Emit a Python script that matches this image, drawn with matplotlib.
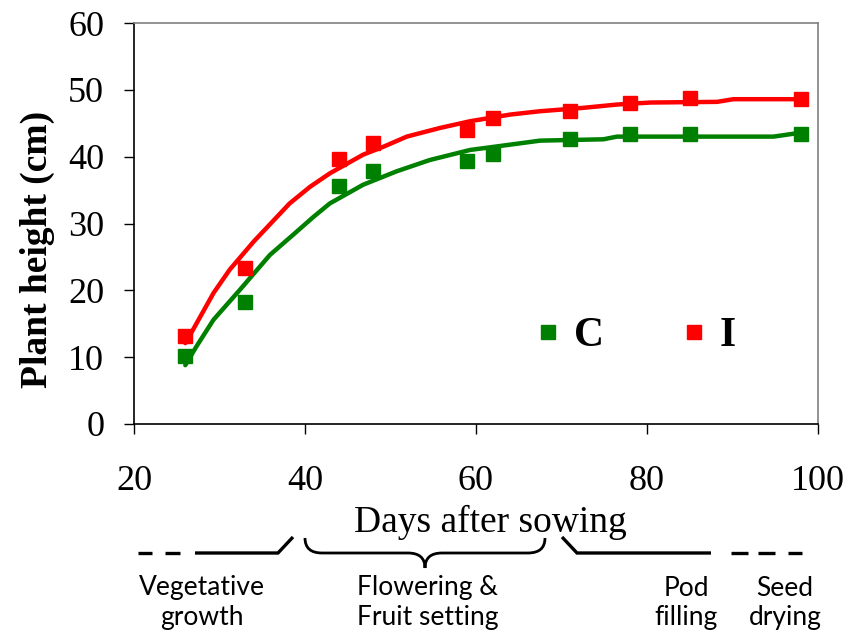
import matplotlib
matplotlib.use("Agg")
import matplotlib.pyplot as plt
from matplotlib.lines import Line2D
from matplotlib.path import Path
from matplotlib.patches import PathPatch

# Measured plant heights (cm) at each sampling date
days = [26, 33, 44, 48, 59, 62, 71, 78, 85, 98]
height_C = [10.2, 18.2, 35.6, 37.9, 39.4, 40.4, 42.7, 43.4, 43.4, 43.4]
height_I = [13.2, 23.3, 39.7, 42.0, 44.0, 45.8, 46.8, 48.1, 48.8, 48.7]

# Trend curves
trend_C_days = [26.0, 27.3, 29.3, 32.4, 35.9, 38.6, 41.0, 42.9, 46.8, 50.7, 54.6,
                59.3, 64.0, 67.5, 74.9, 76.5, 84.3, 94.8, 97.5]
trend_C = [8.8, 11.6, 15.6, 20.1, 25.3, 28.3, 31.0, 33.0, 35.8, 37.8, 39.5,
           41.0, 41.8, 42.4, 42.6, 43.0, 43.0, 43.0, 43.5]
trend_I_days = [26.0, 26.9, 29.3, 31.2, 34.0, 38.2, 40.6, 42.9, 46.8, 49.2, 51.9,
                55.8, 59.3, 64.0, 67.5, 72.5, 76.5, 80.4, 88.2, 90.1, 97.5]
trend_I = [12.1, 14.1, 19.6, 23.1, 27.3, 33.0, 35.5, 37.5, 40.3, 41.5, 43.0,
           44.3, 45.3, 46.3, 46.8, 47.3, 47.8, 48.1, 48.2, 48.6, 48.6]

series_names = ["C", "I"]
series_colors = ["#008000", "#FF0000"]

x_ticks = [20, 40, 60, 80, 100]
y_ticks = [0, 10, 20, 30, 40, 50, 60]

phase_labels = ["Vegetative\ngrowth", "Flowering &\nFruit setting", "Pod\nfilling", "Seed\ndrying"]

W, H = 854, 638
fig = plt.figure(figsize=(W / 100, H / 100), dpi=100)
ax = fig.add_axes([134 / W, 1 - 424 / H, (818 - 134) / W, (424 - 23) / H])

serif = "Liberation Serif"

ax.plot(trend_C_days, trend_C, color=series_colors[0], lw=3.2, solid_capstyle="round", zorder=2)
ax.plot(trend_I_days, trend_I, color=series_colors[1], lw=3.2, solid_capstyle="round", zorder=2)
hC, = ax.plot(days, height_C, ls="none", marker="s", ms=9.5, color=series_colors[0], zorder=3)
hI, = ax.plot(days, height_I, ls="none", marker="s", ms=9.5, color=series_colors[1], zorder=3)

ax.set_xlim(20, 100)
ax.set_ylim(0, 60)
ax.set_xticks(x_ticks)
ax.set_yticks(y_ticks)
ax.set_xticklabels([str(t) for t in x_ticks], fontfamily=serif, fontsize=26)
ax.set_yticklabels([str(t) for t in y_ticks], fontfamily=serif, fontsize=26)
ax.tick_params(axis="x", direction="out", length=7.5, width=1, pad=22)
ax.tick_params(axis="y", direction="out", length=7.5, width=1, pad=14)

for side in ("left", "bottom"):
    ax.spines[side].set_color("black")
    ax.spines[side].set_linewidth(1.2)
for side in ("top", "right"):
    ax.spines[side].set_color("#808080")
    ax.spines[side].set_linewidth(1.2)

leg = ax.legend([hC, hI], series_names, ncol=2, frameon=False,
                loc="center", bbox_to_anchor=(636 / W, 1 - 336 / H),
                bbox_transform=fig.transFigure, borderpad=0,
                prop={"family": serif, "weight": "bold", "size": 30},
                handlelength=0.6, handletextpad=0.32, columnspacing=1.86)

fig.text(490 / W, 1 - 532 / H, "Days after sowing", ha="center", va="baseline",
         fontfamily=serif, fontsize=27)
fig.text(37 / W, 1 - 249 / H, "Plant height (cm)", ha="center", va="center",
         rotation=90, fontfamily=serif, fontweight="bold", fontsize=27)


def px(x, y):
    return (x / W, 1 - y / H)


def seg(points):
    xs = [px(x, y)[0] for x, y in points]
    ys = [px(x, y)[1] for x, y in points]
    fig.add_artist(Line2D(xs, ys, transform=fig.transFigure, color="black", lw=2.4,
                          solid_capstyle="butt", solid_joinstyle="miter"))


# Phase markers under the time axis
for a, b in [(138, 152), (165, 180)]:
    seg([(a, 553), (b, 553)])
seg([(195, 553), (278, 553), (293, 537)])
seg([(562, 537), (577, 553), (711, 553)])
for a, b in [(731, 748), (758, 775), (788, 802)]:
    seg([(a, 553), (b, 553)])

brace = [(305, 538), (305, 553), (322, 553), (408, 553), (425, 553), (425, 568),
         (425, 553), (442, 553), (528, 553), (545, 553), (545, 538)]
codes = [Path.MOVETO, Path.CURVE3, Path.CURVE3, Path.LINETO, Path.CURVE3, Path.CURVE3,
         Path.CURVE3, Path.CURVE3, Path.LINETO, Path.CURVE3, Path.CURVE3]
brace_path = Path([px(x, y) for x, y in brace], codes)
fig.add_artist(PathPatch(brace_path, transform=fig.transFigure, fill=False,
                         edgecolor="black", lw=2.0))

phase_x = [202, 428, 686, 785]
for xpos, lab in zip(phase_x, phase_labels):
    fig.text(xpos / W, 1 - 603 / H, lab, ha="center", va="center",
             fontfamily="Lato", fontsize=19, linespacing=1.25)

fig.savefig("out.png", dpi=100)
